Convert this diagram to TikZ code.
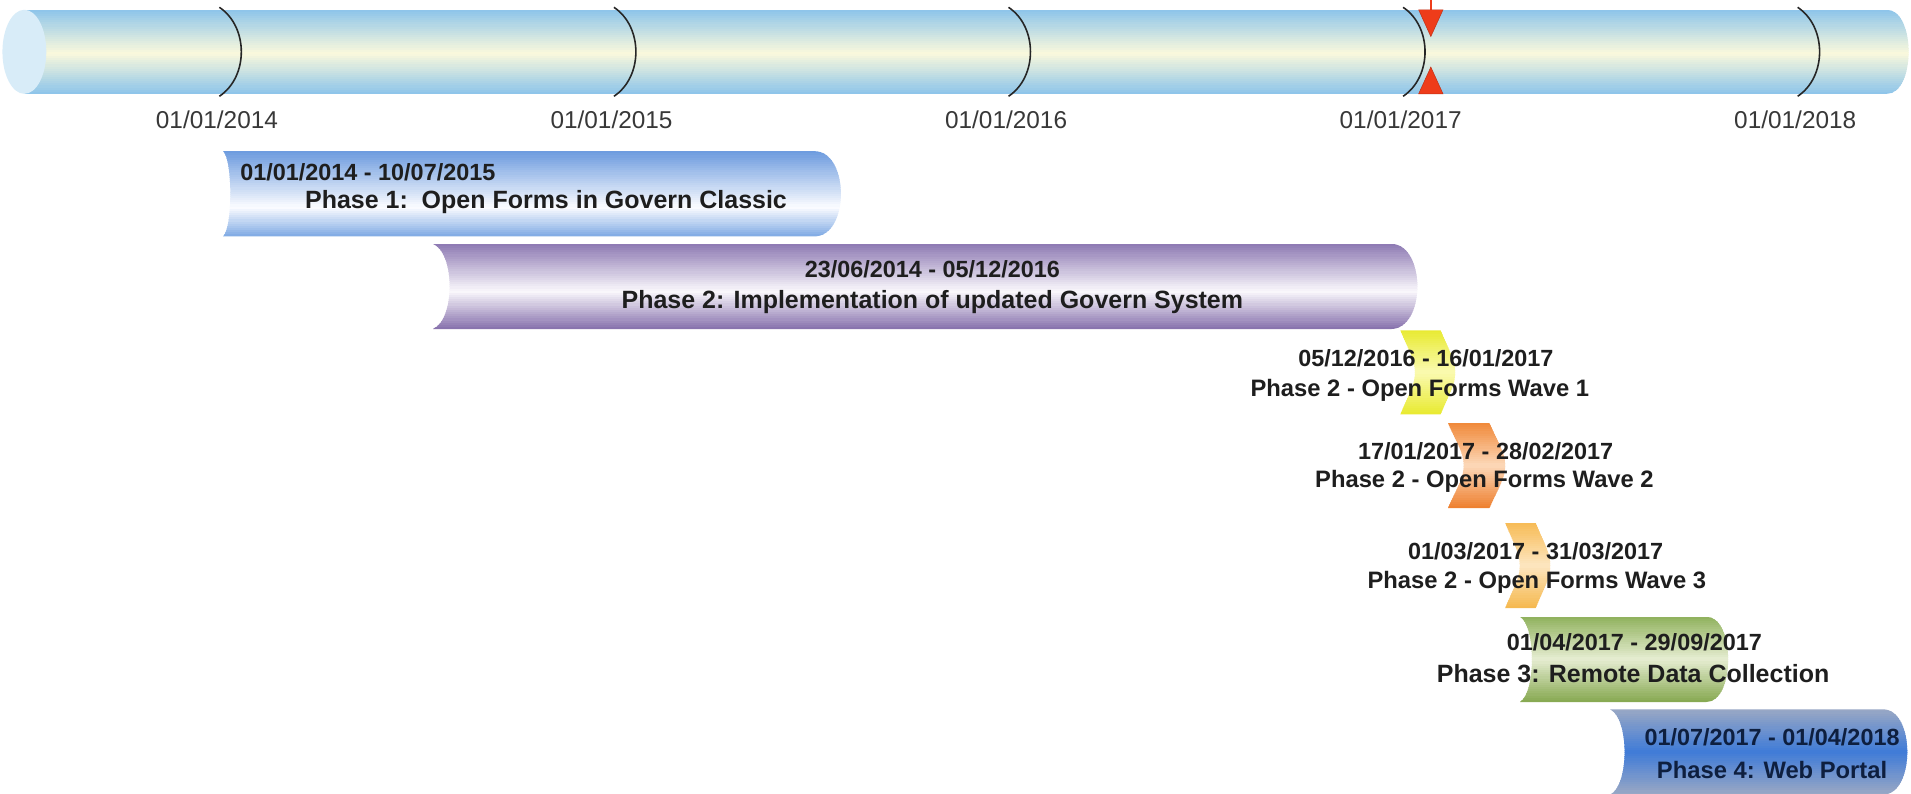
\documentclass[tikz,border=0pt]{standalone}
\usepackage{fontspec}
\setmainfont{Liberation Sans}
\definecolor{tlcap}{HTML}{D8ECF8}
\definecolor{markred}{HTML}{EE3C1A}
\definecolor{txt}{HTML}{1E1E1E}
\definecolor{navy}{HTML}{0E1F3F}
% gradient colour triples (a = top, b = middle, c = bottom)
\definecolor{tla}{HTML}{8CC4EA}\definecolor{tlb}{HTML}{FBF9DC}\definecolor{tlc}{HTML}{8CC4EA}
\definecolor{ponea}{HTML}{6B9ADE}\definecolor{poneb}{HTML}{FBFCFF}\definecolor{ponec}{HTML}{7FAAE4}
\definecolor{ptwoa}{HTML}{8C78B2}\definecolor{ptwob}{HTML}{FAF8FC}\definecolor{ptwoc}{HTML}{8670AC}
\definecolor{wonea}{HTML}{E8EA30}\definecolor{woneb}{HTML}{FAFAB0}\definecolor{wonec}{HTML}{E8EA30}
\definecolor{wtwoa}{HTML}{F08838}\definecolor{wtwob}{HTML}{FCD8B8}\definecolor{wtwoc}{HTML}{EE7F2E}
\definecolor{wthreea}{HTML}{F7BB55}\definecolor{wthreeb}{HTML}{FDE6C0}\definecolor{wthreec}{HTML}{F5B84D}
\definecolor{pthreea}{HTML}{8FB15C}\definecolor{pthreeb}{HTML}{E6EDD2}\definecolor{pthreec}{HTML}{86A850}
\definecolor{pfoura}{HTML}{9AA8C4}\definecolor{pfourb}{HTML}{3F7BD8}\definecolor{pfourc}{HTML}{9AA8C4}
\tikzset{
  lbl/.style={font=\fontsize{20}{24}\selectfont, text=black!78, inner sep=0pt},
  dtxt/.style={font=\fontsize{19.2}{23}\selectfont\bfseries, text=txt, inner sep=0pt},
  ntxt/.style={font=\fontsize{19.5}{23}\selectfont\bfseries, text=txt, inner sep=0pt},
  bigtxt/.style={font=\fontsize{20.5}{24}\selectfont\bfseries, text=txt, inner sep=0pt},
  tickarc/.style={draw=black!85, line width=1.3pt},
}
% vertical three-stop gradient made of strips: xmin xmax ytop ybottom prefix midfraction
\newcommand\vgrad[6]{%
  \foreach \i in {0,...,39}{%
    \pgfmathsetmacro\f{(\i+0.5)/40}%
    \ifdim \f pt < #6 pt
      \pgfmathsetmacro\p{100*\f/#6}\colorlet{gc}{#5b!\p!#5a}%
    \else
      \pgfmathsetmacro\p{100*(1-\f)/(1-#6)}\colorlet{gc}{#5b!\p!#5c}%
    \fi
    \fill[gc] (#1,{#3+(#4-#3)*\i/40}) rectangle (#2,{#3+(#4-#3)*(\i+1)/40+0.8});
  }}
% cylinder bar: x0 x1 ytop ybottom leftdepth rightdepth prefix midfraction
\newcommand\cylbar[8]{%
  \begin{scope}
  \clip (#1,#3) -- (#2,#3)
    .. controls ({#2+1.33*#6},#3) and ({#2+1.33*#6},#4) .. (#2,#4)
    -- (#1,#4)
    .. controls ({#1+1.33*#5},{#4-0.1*(#4-#3)}) and ({#1+1.33*#5},{#3+0.1*(#4-#3)}) .. (#1,#3)
    -- cycle;
  \vgrad{#1}{#2+#6+2}{#3}{#4}{#7}{#8}
  \end{scope}}
% chevron: x0 x1 ytop ybottom depth prefix midfraction
\newcommand\chevshape[7]{%
  \begin{scope}
  \clip (#1,#3) -- (#2,#3)
    .. controls ({#2+0.6*#5},{#3+0.25*(#4-#3)}) and ({#2+#5},{(#3+#4)/2-0.15*(#4-#3)}) .. ({#2+#5},{(#3+#4)/2})
    .. controls ({#2+#5},{(#3+#4)/2+0.15*(#4-#3)}) and ({#2+0.6*#5},{#4-0.25*(#4-#3)}) .. (#2,#4)
    -- (#1,#4)
    .. controls ({#1+0.6*#5},{#4-0.25*(#4-#3)}) and ({#1+#5},{(#3+#4)/2+0.15*(#4-#3)}) .. ({#1+#5},{(#3+#4)/2})
    .. controls ({#1+#5},{(#3+#4)/2-0.15*(#4-#3)}) and ({#1+0.6*#5},{#3+0.25*(#4-#3)}) .. (#1,#3)
    -- cycle;
  \vgrad{#1}{#2+#5+2}{#3}{#4}{#6}{#7}
  \end{scope}}
\begin{document}
\begin{tikzpicture}[x=1pt,y=-1pt]
\useasboundingbox (0,0) rectangle (1568,651);
\fill[white] (0,0) rectangle (1568,651);

% ---- timeline bar ----
\begin{scope}
\clip (20,8) -- (1548,8) .. controls (1572,8) and (1572,77) .. (1548,77) -- (20,77) -- cycle;
\vgrad{20}{1570}{8}{77}{tl}{0.52}
\end{scope}
\fill[tlcap] (20,42.5) ellipse [x radius=18, y radius=34.5];

% ticks
\foreach \x/\yr/\nm in {180/2014/t14, 503.75/2015/t15, 827.5/2016/t16, 1151.25/2017/t17, 1475/2018/t18}{
  \draw[tickarc] (\x,6) .. controls (\x+24,22) and (\x+24,63) .. (\x,79);
  \node[lbl] (\nm) at (\x-2,98) {01/01/\yr};
}

% red marker
\coordinate (mtop) at (1174,0);
\coordinate (mbar) at (1174,8);
\draw[markred, line width=1.2pt] (mtop) -- (mbar);
\filldraw[fill=markred, draw=markred!80!black, line width=0.4pt] (1164,8) -- (1184,8) -- (1174,30) -- cycle;
\filldraw[fill=markred, draw=markred!80!black, line width=0.4pt] (1164,77) -- (1184,77) -- (1174,55) -- cycle;

% ---- bars ----
\cylbar{183}{668}{124}{194}{6}{22}{pone}{0.66}
\node[dtxt, anchor=west] (p1d) at (197,141) {01/01/2014 - 10/07/2015};
\node[bigtxt] (p1n) at (448,166) {Phase 1:\ \ Open Forms in Govern Classic};

\cylbar{355}{1141}{200}{270}{14}{22}{ptwo}{0.56}
\node[dtxt] (p2d) at (765,221) {23/06/2014 - 05/12/2016};
\node[bigtxt] (p2n) at (765,248) {Phase 2: Implementation of updated Govern System};

\chevshape{1149}{1182}{271}{340}{12}{wone}{0.5}
\node[dtxt] (w1d) at (1170,294) {05/12/2016 - 16/01/2017};
\node[ntxt] (w1n) at (1165,320) {Phase 2 - Open Forms Wave 1};

\chevshape{1188}{1222}{347}{417}{13}{wtwo}{0.5}
\node[dtxt] (w2d) at (1219,370) {17/01/2017 - 28/02/2017};
\node[ntxt] (w2n) at (1218,395) {Phase 2 - Open Forms Wave 2};

\chevshape{1235}{1260}{429}{499}{12}{wthree}{0.5}
\node[dtxt] (w3d) at (1260,452) {01/03/2017 - 31/03/2017};
\node[ntxt] (w3n) at (1261,478) {Phase 2 - Open Forms Wave 3};

\cylbar{1247}{1400}{506}{576}{10}{18}{pthree}{0.5}
\node[dtxt] (p3d) at (1341,527) {01/04/2017 - 29/09/2017};
\node[bigtxt] (p3n) at (1340,553) {Phase 3: Remote Data Collection};

\cylbar{1321}{1545}{582}{652}{12}{20}{pfour}{0.5}
\node[dtxt, text=navy] (p4d) at (1454,605) {01/07/2017 - 01/04/2018};
\node[ntxt, text=navy] (p4n) at (1454,632) {Phase 4: Web Portal};
\end{tikzpicture}
\end{document}
